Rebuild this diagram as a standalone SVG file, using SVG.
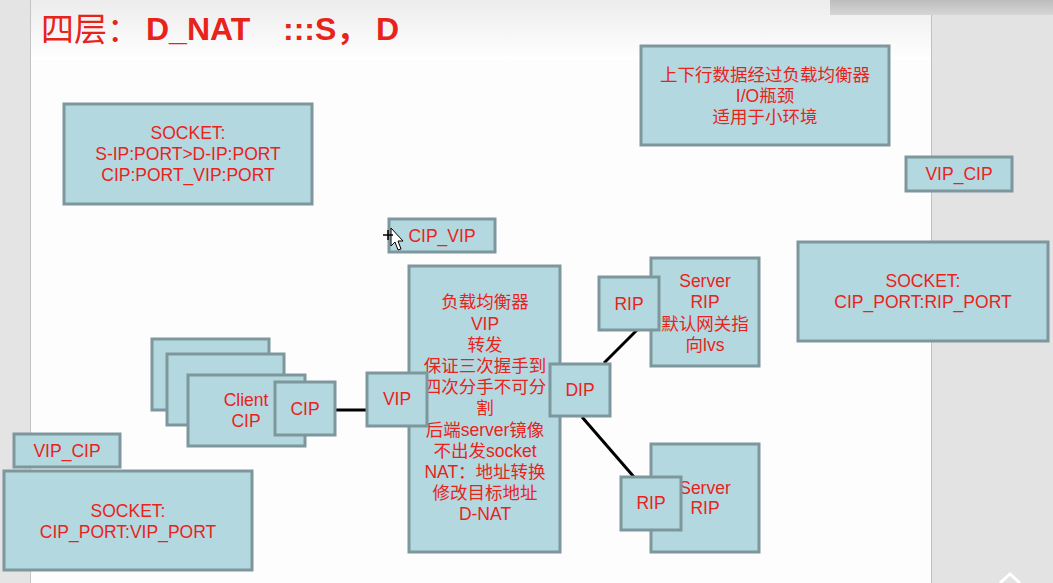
<svg xmlns="http://www.w3.org/2000/svg" width="1053" height="583" viewBox="0 0 1053 583">
<defs>
<linearGradient id="topbar" x1="0" y1="0" x2="0" y2="1">
<stop offset="0" stop-color="#bdbdbd"/>
<stop offset="1" stop-color="#d6d6d6"/>
</linearGradient>
<linearGradient id="titlebg" x1="0" y1="0" x2="0" y2="1">
<stop offset="0" stop-color="#ececec"/>
<stop offset="1" stop-color="#ffffff"/>
</linearGradient>
</defs>
<style>
.box{fill:#b4d8df;stroke:#7d979d;stroke-width:3}
.t{font-family:"Liberation Sans","Noto Sans CJK SC",sans-serif;font-size:17.5px;fill:#e8231c;text-anchor:middle}
.link{stroke:#000;stroke-width:3;fill:none}
.title{font-family:"Liberation Sans","Noto Sans CJK SC",sans-serif;font-size:32px;font-weight:bold;fill:#e8231c}
</style>
<rect width="1053" height="583" fill="#fdfdfd"/>
<rect x="0" y="0" width="30" height="583" fill="#e4e4e4"/>
<line x1="30.5" y1="0" x2="30.5" y2="583" stroke="#c4c4c4"/>
<rect x="931" y="0" width="122" height="583" fill="#e3e3e3"/>
<line x1="931.5" y1="15" x2="931.5" y2="583" stroke="#c0c0c0"/>
<rect x="31" y="0" width="900" height="60" fill="url(#titlebg)"/>
<rect x="830" y="0" width="223" height="15" fill="url(#topbar)"/>
<path d="M1000 583 L1010 574 L1020 583" fill="none" stroke="#fff" stroke-width="3"/>

<g id="title">
<text x="41" y="41" font-family="'Noto Sans CJK SC',sans-serif" font-size="33" fill="#e8231c">四层：</text>
<text class="title" x="146" y="40">D_NAT</text>
<text class="title" x="283" y="40">:::S，</text>
<text class="title" x="376" y="40">D</text>
</g>

<g id="connectors">
<line class="link" x1="336" y1="410" x2="367" y2="410"/>
<line class="link" x1="604" y1="363" x2="637" y2="330"/>
<line class="link" x1="582" y1="417" x2="634" y2="477"/>
</g>

<g id="socket-top">
<rect class="box" x="64" y="104" width="248" height="100"/>
<text class="t" x="188" y="139">SOCKET:</text>
<text class="t" x="188" y="160">S-IP:PORT&gt;D-IP:PORT</text>
<text class="t" x="188" y="181">CIP:PORT_VIP:PORT</text>
</g>

<g id="info">
<rect class="box" x="641" y="46" width="248" height="99"/>
<text class="t" x="765" y="81">上下行数据经过负载均衡器</text>
<text class="t" x="765" y="102">I/O瓶颈</text>
<text class="t" x="765" y="123">适用于小环境</text>
</g>

<g id="vip-cip-right">
<rect class="box" x="906" y="157" width="106" height="34"/>
<text class="t" x="959" y="180">VIP_CIP</text>
</g>

<g id="cip-vip">
<rect class="box" x="389" y="219" width="106" height="33"/>
<text class="t" x="442" y="242">CIP_VIP</text>
<path d="M391 228 L391 246 L395 242 L398 250 L401 249 L398 241 L403 241 Z" fill="#fff" stroke="#000" stroke-width="1"/>
<path d="M383 235 H393 M388 230 V240" stroke="#000" stroke-width="1.5"/>
</g>

<g id="socket-right">
<rect class="box" x="798" y="242" width="250" height="99"/>
<text class="t" x="923" y="287">SOCKET:</text>
<text class="t" x="923" y="308">CIP_PORT:RIP_PORT</text>
</g>

<g id="lb">
<rect class="box" x="409" y="266" width="151" height="286"/>
<text class="t" x="485" y="308">负载均衡器</text>
<text class="t" x="485" y="330">VIP</text>
<text class="t" x="485" y="351">转发</text>
<text class="t" x="485" y="372">保证三次握手到</text>
<text class="t" x="485" y="393">四次分手不可分</text>
<text class="t" x="485" y="414">割</text>
<text class="t" x="485" y="436">后端server镜像</text>
<text class="t" x="485" y="457">不出发socket</text>
<text class="t" x="485" y="478">NAT：地址转换</text>
<text class="t" x="485" y="499">修改目标地址</text>
<text class="t" x="485" y="520">D-NAT</text>
</g>

<g id="vip">
<rect class="box" x="367" y="373" width="60" height="53"/>
<text class="t" x="397" y="405">VIP</text>
</g>

<g id="dip">
<rect class="box" x="550" y="364" width="60" height="52"/>
<text class="t" x="580" y="396">DIP</text>
</g>

<g id="clients">
<rect class="box" x="152" y="339" width="117" height="71"/>
<rect class="box" x="167" y="354" width="117" height="71"/>
<rect class="box" x="188" y="375" width="117" height="71"/>
<text class="t" x="246" y="406">Client</text>
<text class="t" x="246" y="427">CIP</text>
</g>

<g id="cip">
<rect class="box" x="275" y="382" width="60" height="53"/>
<text class="t" x="305" y="415">CIP</text>
</g>

<g id="server1">
<rect class="box" x="651" y="258" width="108" height="108"/>
<text class="t" x="705" y="287">Server</text>
<text class="t" x="705" y="308">RIP</text>
<text class="t" x="705" y="330">默认网关指</text>
<text class="t" x="705" y="351">向lvs</text>
</g>

<g id="rip1">
<rect class="box" x="599" y="277" width="60" height="53"/>
<text class="t" x="629" y="310">RIP</text>
</g>

<g id="server2">
<rect class="box" x="651" y="444" width="108" height="108"/>
<text class="t" x="705" y="494">Server</text>
<text class="t" x="705" y="514">RIP</text>
</g>

<g id="rip2">
<rect class="box" x="621" y="477" width="60" height="53"/>
<text class="t" x="651" y="509">RIP</text>
</g>

<g id="vip-cip-left">
<rect class="box" x="14" y="434" width="106" height="33"/>
<text class="t" x="67" y="457">VIP_CIP</text>
</g>

<g id="socket-left">
<rect class="box" x="4" y="471" width="248" height="99"/>
<text class="t" x="128" y="517">SOCKET:</text>
<text class="t" x="128" y="538">CIP_PORT:VIP_PORT</text>
</g>
</svg>
